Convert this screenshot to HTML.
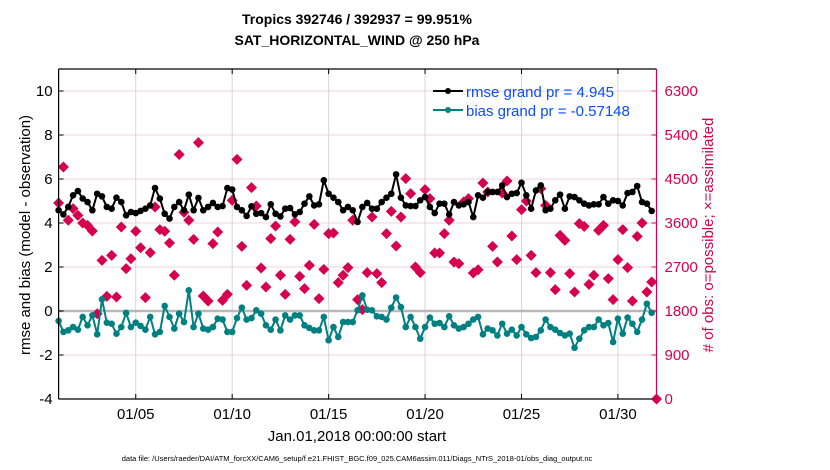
<!DOCTYPE html>
<html><head><meta charset="utf-8"><style>
html,body{margin:0;padding:0;background:#fff;}
svg{display:block;font-family:"Liberation Sans",Arial,sans-serif;}
</style></head><body>
<svg id="chart" width="830" height="470" viewBox="0 0 830 470" xmlns="http://www.w3.org/2000/svg">
<rect width="830" height="470" fill="#fff"/>
<text x="357" y="24" text-anchor="middle" font-size="14" font-weight="bold">Tropics 392746 / 392937 = 99.951%</text>
<text x="357" y="45" text-anchor="middle" font-size="14" font-weight="bold">SAT_HORIZONTAL_WIND @ 250 hPa</text>
<g id="grid"></g>
<g id="marks"></g>
<g id="axes"></g>
<text transform="translate(30,235) rotate(-90)" text-anchor="middle" font-size="15">rmse and bias (model - observation)</text>
<text transform="translate(713,235) rotate(-90)" text-anchor="middle" font-size="15" fill="#d6004f"># of obs: o=possible; ×=assimilated</text>
<text x="357" y="441" text-anchor="middle" font-size="15">Jan.01,2018 00:00:00 start</text>
<text x="357" y="461" text-anchor="middle" font-size="7.5">data file: /Users/raeder/DAI/ATM_forcXX/CAM6_setup/f.e21.FHIST_BGC.f09_025.CAM6assim.011/Diags_NTrS_2018-01/obs_diag_output.nc</text>
<g id="legend">
<line x1="433" y1="91" x2="463" y2="91" stroke="#000" stroke-width="2"/><circle cx="448" cy="91" r="3" fill="#000"/>
<text x="466" y="97" font-size="15" fill="#0a4cff">rmse grand pr = 4.945</text>
<line x1="433" y1="110" x2="463" y2="110" stroke="#008080" stroke-width="2"/><circle cx="448" cy="110" r="3" fill="#008080"/>
<text x="466" y="116" font-size="15" fill="#0a4cff">bias grand pr = -0.57148</text>
</g>
</svg>
<script>
const xTickLabels = ["01/05","01/10","01/15","01/20","01/25","01/30"];
const xTickDays = [4,9,14,19,24,29];
const leftTicks = [-4,-2,0,2,4,6,8,10];
const rightTicks = [0,900,1800,2700,3600,4500,5400,6300];
const rmse = [4.58,4.39,4.73,5.26,5.45,5.11,4.95,4.58,5.33,5.21,4.73,4.65,5.15,4.95,4.35,4.5,4.45,4.55,4.65,4.8,5.59,5.11,4.42,4.2,4.73,4.95,4.58,5.29,4.58,5.14,4.58,4.73,4.91,4.73,4.77,5.59,5.52,4.73,4.58,4.32,4.76,4.42,4.45,4.27,4.85,4.42,4.3,4.65,4.68,4.39,4.5,4.88,5.21,4.8,4.85,5.94,5.33,5.15,4.95,4.58,4.73,4.58,
4.05,4.73,4.91,4.65,4.65,4.95,5.15,5.33,6.21,5.15,4.8,4.77,4.77,5.03,5.18,4.73,4.45,4.88,4.88,4.39,4.95,4.8,4.85,4.95,4.27,5.26,5.15,5.41,5.41,5.41,5.71,5.18,5.33,5.36,5.83,5.26,4.65,5.48,5.71,4.58,4.65,5.03,5.29,4.65,5.21,5.18,5.03,4.88,4.8,4.85,4.85,5.18,4.88,5.03,5.0,4.8,5.36,5.41,5.68,4.95,4.88,4.55];
const bias = [-0.45,-0.95,-0.88,-0.73,-0.85,-0.27,-0.65,-0.2,-1.06,0.53,-0.53,-0.58,-1.03,-0.73,-0.09,-0.73,-0.53,-0.68,-0.85,-0.27,-1.06,-0.95,0.23,-0.27,-0.8,-0.12,-0.5,0.94,-0.73,-0.12,-0.8,-0.85,-0.73,-0.35,-0.39,-0.95,-0.95,-0.32,0.15,-0.39,-0.32,0.03,-0.12,-0.65,-0.85,-0.39,-0.88,-0.2,-0.39,-0.2,-0.2,-0.65,-0.77,-0.88,-0.88,-0.27,-1.33,-0.73,-1.18,-0.5,-0.5,-0.5,
0.03,0.71,0.06,0.03,-0.24,-0.27,-0.39,0.15,0.61,0.18,-0.73,-0.27,-0.73,-1.26,-0.73,-0.3,-0.58,-0.55,-0.73,-0.24,-0.65,-0.8,-0.73,-0.58,-0.39,-0.27,-1.06,-0.8,-0.88,-1.11,-0.58,-1.03,-0.85,-1.11,-0.73,-1.06,-1.23,-1.18,-0.88,-0.39,-0.73,-0.85,-1.0,-1.11,-1.03,-1.67,-1.26,-0.88,-0.73,-0.73,-0.39,-0.65,-0.55,-1.41,-0.35,-1.03,-0.3,-0.58,-0.95,-0.39,0.33,-0.08];
const obsCount = [4009,4745,3655,3893,3757,3600,3552,3436,1745,2836,2100,2939,2086,3518,2666,2870,3430,3095,2073,2993,3927,3464,3430,3191,2530,5000,3818,3655,3266,5243,2107,2005,3177,3416,2018,2141,4064,4902,3123,2325,4323,3948,2680,2291,3280,3539,2530,2141,3266,3623,2509,2257,2734,3573,2052,2652,3382,3395,2380,2530,2686,3655,2032,
1827,2584,3723,2564,2380,3382,3839,3130,3723,4507,4200,2700,2584,4282,4098,2986,2986,3382,3655,2802,2768,4030,4098,2577,2645,4418,4234,3123,2802,4214,4459,3334,2850,3873,4050,2939,2584,4302,3961,2584,2236,3348,3245,2564,2189,3586,3532,2345,2530,3450,3552,2461,2032,2850,3464,2686,2005,3327,3600,2189,2393,0];

const NS="http://www.w3.org/2000/svg";
const PL=58.6, PR=656.5, PT=69, PB=399;
const X0=0, X1=31, YL0=-4, YL1=11, YR0=0, YR1=6750;
const sx = d => PL + (d - X0)/(X1 - X0)*(PR - PL);
const sy = v => PB - (v - YL0)/(YL1 - YL0)*(PB - PT);
const sr = n => PB - (n - YR0)/(YR1 - YR0)*(PB - PT);
const dayOf = i => i*0.25;
function mk(tag, attrs, parent){const e=document.createElementNS(NS,tag);for(const k in attrs)e.setAttribute(k,attrs[k]);parent.appendChild(e);return e;}
const grid=document.getElementById('grid'), marks=document.getElementById('marks'), axes=document.getElementById('axes');

leftTicks.forEach(v=>{ if(v!==0 && v>-4){ const g=mk('line',{x1:PL,x2:PR,y1:sy(v),y2:sy(v),stroke:'#efd3de','stroke-width':1},grid);

}});
xTickDays.forEach(d=>{ const g=mk('line',{x1:sx(d),x2:sx(d),y1:PT,y2:PB,stroke:'#d6d6d6','stroke-width':1},grid);

});
const zl=mk('line',{x1:PL,x2:PR,y1:sy(0),y2:sy(0),stroke:'#b8b8b8','stroke-width':2.5},grid);



obsCount.forEach((n,i)=>{const x=sx(dayOf(i)), y=sr(n);
const p=mk('path',{d:`M${x},${y-5.5}L${x+5.5},${y}L${x},${y+5.5}L${x-5.5},${y}Z`,fill:'#d6004f'},marks);

});

function series(vals,color,name){
 const pts=vals.map((v,i)=>sx(dayOf(i)).toFixed(1)+','+sy(v).toFixed(1)).join(' ');
 const pl=mk('polyline',{points:pts,fill:'none',stroke:color,'stroke-width':2,'stroke-linejoin':'round'},marks);
 
 
 vals.forEach((v,i)=>{const c=mk('circle',{cx:sx(dayOf(i)),cy:sy(v),r:3.3,fill:color},marks);
 
 });
}
series(bias,'#008080','bias');
series(rmse,'#000000','rmse');

const ax=[[PL,PT,PL,PB,'#000','left-axis'],[PL,PB,PR,PB,'#000','bottom-axis'],[PL,PT,PR,PT,'#000','top-axis'],[PR,PT,PR,PB,'#d6004f','right-axis']];
ax.forEach(a=>{const l=mk('line',{x1:a[0],y1:a[1],x2:a[2],y2:a[3],stroke:a[4],'stroke-width':1.2},axes);

});
leftTicks.forEach(v=>{mk('line',{x1:PL,x2:PL+5,y1:sy(v),y2:sy(v),stroke:'#000'},axes);
const t=mk('text',{x:PL-6,y:sy(v)+5,'text-anchor':'end','font-size':15},axes);t.textContent=String(v);

});
rightTicks.forEach(n=>{mk('line',{x1:PR-5,x2:PR,y1:sr(n),y2:sr(n),stroke:'#d6004f'},axes);
const t=mk('text',{x:PR+8,y:sr(n)+5,'font-size':15,fill:'#d6004f'},axes);t.textContent=String(n);

});
xTickDays.forEach((d,i)=>{mk('line',{x1:sx(d),x2:sx(d),y1:PB-5,y2:PB,stroke:'#000'},axes);mk('line',{x1:sx(d),x2:sx(d),y1:PT,y2:PT+5,stroke:'#000'},axes);
const t=mk('text',{x:sx(d),y:PB+20,'text-anchor':'middle','font-size':15},axes);t.textContent=xTickLabels[i];

});
</script>
</body></html>
